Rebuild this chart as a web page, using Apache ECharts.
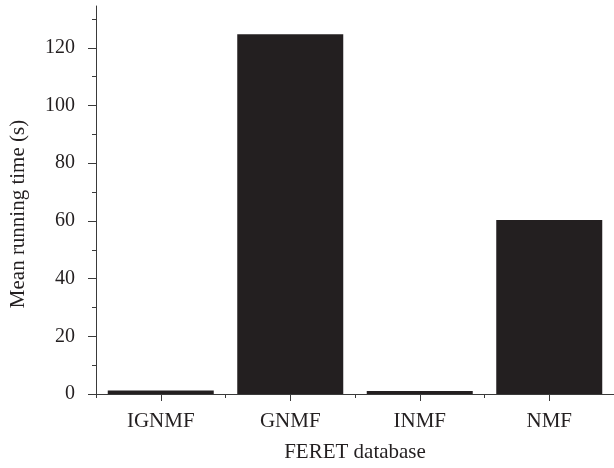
<!DOCTYPE html>
<html>
<head>
<meta charset="utf-8">
<style>
  html, body { margin: 0; padding: 0; background: #fff; }
  #chart { width: 614px; height: 468px; }
</style>
<script src="https://cdn.jsdelivr.net/npm/echarts@6/dist/echarts.min.js"></script>
</head>
<body>
<div id="chart"></div>
<script>
const categories = ['IGNMF', 'GNMF', 'INMF', 'NMF'];
const meanRunningTime = [1.2, 124.7, 1.0, 60.3];
const yMajorTicks = [0, 20, 40, 60, 80, 100, 120];
const yMinorTicks = [10, 30, 50, 70, 90, 110, 130];
const yMax = 134.5;

const FONT = '"Liberation Serif", "DejaVu Serif", serif';
const AXIS_COLOR = '#3a3a3a';
const TEXT_COLOR = '#231f20';
const BAR_COLOR = '#231f20';

const chart = echarts.init(document.getElementById('chart'), null, { renderer: 'canvas' });

chart.setOption({
  animation: false,
  backgroundColor: '#ffffff',
  grid: { left: 95, right: -3, top: 6, bottom: 74, containLabel: false },
  xAxis: [
    {
      type: 'category',
      data: categories,
      boundaryGap: true,
      name: 'FERET database',
      nameLocation: 'middle',
      nameGap: 48,
      nameTextStyle: { fontFamily: FONT, fontSize: 21, color: TEXT_COLOR },
      axisLine: { show: true, lineStyle: { color: AXIS_COLOR, width: 1 } },
      axisTick: { show: true, alignWithLabel: true, length: 7, lineStyle: { color: AXIS_COLOR } },
      axisLabel: { margin: 17, fontFamily: FONT, fontSize: 21, color: TEXT_COLOR },
      splitLine: { show: false }
    },
    {
      type: 'category',
      data: categories,
      boundaryGap: true,
      position: 'bottom',
      axisLine: { show: false },
      axisTick: { show: true, alignWithLabel: false, length: 4, lineStyle: { color: AXIS_COLOR } },
      axisLabel: { show: false },
      splitLine: { show: false }
    }
  ],
  yAxis: [
    {
      type: 'value',
      min: 0,
      max: yMax,
      name: 'Mean running time (s)',
      nameLocation: 'middle',
      nameGap: 67,
      nameRotate: 90,
      nameTextStyle: { fontFamily: FONT, fontSize: 21, color: TEXT_COLOR, padding: [0, 28, 0, 0] },
      axisLine: { show: true, lineStyle: { color: AXIS_COLOR, width: 1 } },
      axisTick: { show: true, inside: false, length: 8, customValues: yMajorTicks, lineStyle: { color: AXIS_COLOR } },
      axisLabel: { margin: 21, customValues: yMajorTicks, fontFamily: FONT, fontSize: 20, color: TEXT_COLOR },
      splitLine: { show: false }
    },
    {
      type: 'value',
      min: 0,
      max: yMax,
      position: 'left',
      axisLine: { show: false },
      axisTick: { show: true, inside: false, length: 4, customValues: yMinorTicks, lineStyle: { color: AXIS_COLOR } },
      axisLabel: { show: false },
      splitLine: { show: false }
    }
  ],
  series: [
    {
      type: 'bar',
      xAxisIndex: 0,
      yAxisIndex: 0,
      data: meanRunningTime,
      barWidth: 106,
      itemStyle: { color: BAR_COLOR }
    }
  ]
});
</script>
</body>
</html>
